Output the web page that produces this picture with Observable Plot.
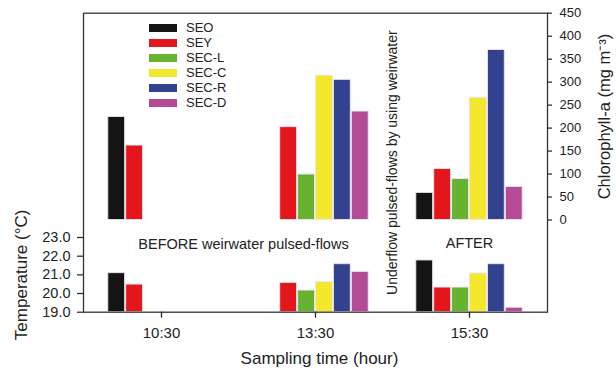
<!DOCTYPE html>
<html>
<head>
<meta charset="utf-8">
<script src="https://cdn.jsdelivr.net/npm/d3@7"></script>
<script src="https://cdn.jsdelivr.net/npm/@observablehq/plot@0.6"></script>
<style>
  html, body { margin: 0; padding: 0; background: #fff; }
  #chart { position: relative; width: 616px; height: 373px; font-family: "Liberation Sans", Arial, sans-serif; }
  #chart > * { position: absolute; left: 0; top: 0; }
  .lg-swatch { height: 15px; padding-bottom: 0 !important; align-items: center; line-height: 15px; }
  .lg-swatch svg { margin-right: 9px !important; }
  .lg-swatches { margin: 0 !important; min-height: 0 !important; }
</style>
</head>
<body>
<div id="chart"></div>
<script>
// ---------- data ----------
const times = ["10:30", "13:30", "15:30"];
const series = ["SEO", "SEY", "SEC-L", "SEC-C", "SEC-R", "SEC-D"];
const colors = ["#141414", "#e3161b", "#67b22f", "#f3e82b", "#32428f", "#b54b96"];

// Chlorophyll-a (mg m-3), one value per sampling time
const chlSEO  = [224, null, 59];
const chlSEY  = [162, 202, 111];
const chlSECL = [null, 99, 89];
const chlSECC = [null, 314, 266];
const chlSECR = [null, 305, 370];
const chlSECD = [null, 236, 72];

// Temperature (°C), one value per sampling time
const tmpSEO  = [21.09, null, 21.77];
const tmpSEY  = [20.48, 20.57, 20.32];
const tmpSECL = [null, 20.16, 20.32];
const tmpSECC = [null, 20.61, 21.07];
const tmpSECR = [null, 21.57, 21.57];
const tmpSECD = [null, 21.16, 19.24];

const chlTicks = [0, 50, 100, 150, 200, 250, 300, 350, 400, 450];
const tempTicks = [19, 20, 21, 22, 23];

// ---------- build rows ----------
function rows(arrays) {
  const out = [];
  arrays.forEach((arr, si) => arr.forEach((v, ti) => {
    if (v != null) out.push({time: times[ti], series: series[si], value: v});
  }));
  return out;
}
const chlRows = rows([chlSEO, chlSEY, chlSECL, chlSECC, chlSECR, chlSECD]);
const tmpRows = rows([tmpSEO, tmpSEY, tmpSECL, tmpSECC, tmpSECR, tmpSECD]);

// ---------- layout ----------
const W = 616, H = 373;
const ML = 83, MR = 69, MT = 12.7, MB = 61.3;
const font = "'Liberation Sans', Arial, sans-serif";
const ink = "#222";

const common = {
  width: W, height: H, marginLeft: ML, marginRight: MR,
  fx: {domain: times, padding: 0},
  x: {domain: series, paddingInner: 0.06, paddingOuter: 1.33, round: false, axis: null},
  color: {domain: series, range: colors},
  style: {background: "transparent", fontFamily: font, fontSize: "13px", color: ink, overflow: "visible"}
};
const barStyle = {stroke: "#ece4f0", strokeWidth: 0.9};

// Top: chlorophyll-a
const plotA = Plot.plot({
  ...common,
  marginTop: MT, marginBottom: MB,
  fx: {...common.fx, axis: null},
  y: {domain: [chlTicks[0], chlTicks[chlTicks.length - 1]], range: [219.5, MT]},
  marks: [
    Plot.barY(chlRows, {fx: "time", x: "series", y: "value", fill: "series", ...barStyle}),
    Plot.axisY({anchor: "right", ticks: chlTicks, tickSize: 5, tickPadding: 8, fontSize: 13, label: null, strokeWidth: 1.2}),
    Plot.text([{time: times[2]}], {fx: "time", y: () => d3.mean([chlTicks[0], chlTicks[chlTicks.length - 1]]),
      text: () => "Chlorophyll-a (mg m\u207B\u00B3)", frameAnchor: "right", dx: 58, rotate: -90,
      textAnchor: "middle", lineAnchor: "middle", fontSize: 16.5, fill: ink}),
    Plot.text([{time: times[2]}], {fx: "time", text: () => "Underflow pulsed-flows by using weirwater",
      frameAnchor: "left", rotate: -90, textAnchor: "middle", lineAnchor: "middle", fontSize: 14, fill: ink})
  ]
});

// Bottom: temperature
const plotB = Plot.plot({
  ...common,
  marginTop: 237, marginBottom: MB,
  y: {domain: [tempTicks[0], tempTicks[tempTicks.length - 1]]},
  marks: [
    Plot.barY(tmpRows, {fx: "time", x: "series", y1: () => tempTicks[0], y2: "value", fill: "series", ...barStyle}),
    Plot.axisY({anchor: "left", ticks: tempTicks, tickFormat: d3.format(".1f"), tickSize: 7, tickPadding: 7, fontSize: 14.5, label: null, strokeWidth: 1.2}),
    Plot.axisFx({anchor: "bottom", tickSize: 6, tickPadding: 9, fontSize: 15, label: null, strokeWidth: 1.3}),
    Plot.text([{time: times[0]}], {fx: "time", text: () => "Temperature (°C)", frameAnchor: "left", dx: -63,
      rotate: -90, textAnchor: "middle", lineAnchor: "middle", fontSize: 17, fill: ink}),
    Plot.text([{time: times[1]}], {fx: "time", text: () => "Sampling time (hour)", frameAnchor: "bottom",
      dx: 4, dy: 46, textAnchor: "middle", lineAnchor: "middle", fontSize: 17, fill: ink}),
    Plot.text([{time: times[1]}], {fx: "time", text: () => "BEFORE weirwater pulsed-flows", frameAnchor: "top-left",
      dx: 5, dy: 7, textAnchor: "middle", lineAnchor: "middle", fontSize: 14.5, fill: ink}),
    Plot.text([{time: times[2]}], {fx: "time", text: () => "AFTER", frameAnchor: "top",
      dy: 6, textAnchor: "middle", lineAnchor: "middle", fontSize: 14.5, fill: ink})
  ]
});

// Frame around both panels
const plotC = Plot.plot({
  width: W, height: H, marginLeft: ML, marginRight: MR, marginTop: MT, marginBottom: MB,
  style: {background: "transparent", overflow: "visible"},
  marks: [Plot.frame({stroke: "#333", strokeWidth: 1.3})]
});

const legend = Plot.legend({
  color: {domain: series, range: colors},
  legend: "swatches", columns: 1, swatchWidth: 28, swatchHeight: 8, className: "lg",
  style: {fontFamily: font, fontSize: "13px", color: ink}
});
legend.style.left = "149px";
legend.style.top = "20px";

const chart = document.getElementById("chart");
chart.append(plotA, plotB, plotC, legend);
</script>
</body>
</html>
